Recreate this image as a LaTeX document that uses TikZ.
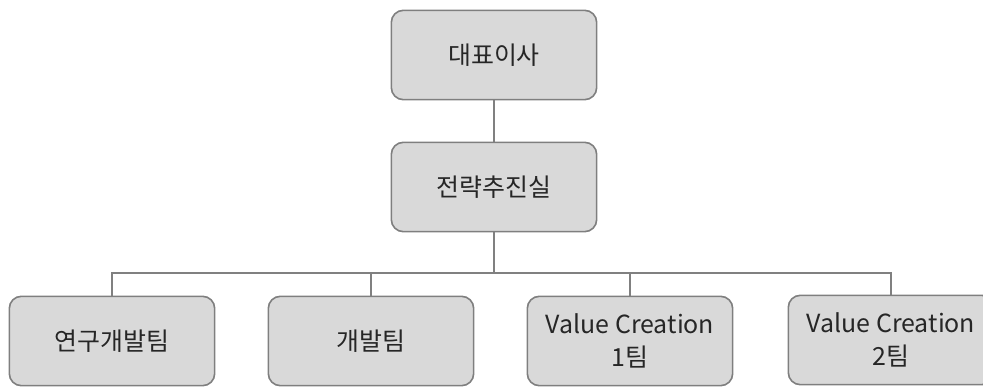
\documentclass[tikz,border=0pt]{standalone}
\usepackage{fontspec}
\setmainfont{Noto Sans CJK KR}
\usetikzlibrary{backgrounds}
\definecolor{boxfill}{HTML}{D9D9D9}
\definecolor{boxline}{HTML}{7F7F7F}
\definecolor{busline}{HTML}{808080}
\definecolor{labeltext}{HTML}{262626}

\begin{document}
\begin{tikzpicture}[x=0.75pt, y=-0.75pt, semithick]
 % Define block styles
	\tikzstyle{block} = [rectangle, draw=boxline, line width=1.2pt, fill=boxfill, rounded corners=9pt, minimum width=154pt, minimum height=67pt, align=center, text=labeltext, font=\fontsize{18.7}{25}\selectfont]
	\tikzstyle{line} = [draw=busline, line width=1.5pt]
	\useasboundingbox (0,0) rectangle (983,388);
%%====Definizione stati e posizione===============================================================
	\node	[block]	(ceo)		at (494,55)		{대표이사};
	\node	[block]	(strategy)	at (494,187)	{전략추진실};
	\node	[block]	(rnd)		at (112,341)	{연구개발팀};
	\node	[block]	(dev)		at (371,341)	{개발팀};
	\node	[block]	(vc1)		at (630,341)	{Value Creation\\1팀};
	\node	[block]	(vc2)		at (891,340)	{Value Creation\\2팀};
	\coordinate (bus) at (494,273);
%%====Collegamenti===============================================================
	\path [line] (ceo) -- (strategy);
	\path [line] (strategy) -- (bus);
	\path [line] (bus) -| (rnd);
	\path [line] (bus) -| (dev);
	\path [line] (bus) -| (vc1);
	\path [line] (bus) -| (vc2);
\end{tikzpicture}
\end{document}
